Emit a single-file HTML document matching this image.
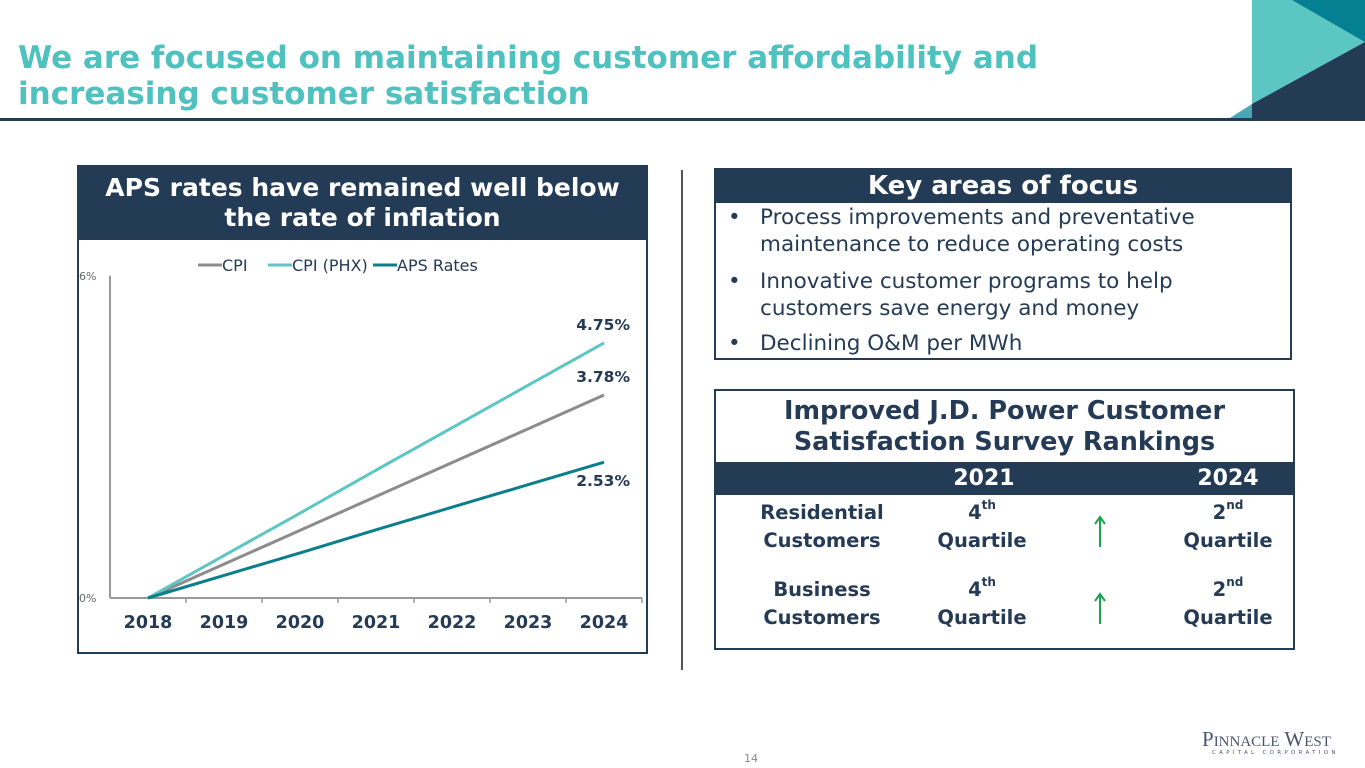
<!DOCTYPE html>
<html><head><meta charset="utf-8"><style>
body{margin:0;width:1365px;height:768px;position:relative;background:#fff;font-family:"DejaVu Sans","Liberation Sans",sans-serif;overflow:hidden;color:#243a55}
.a{position:absolute;white-space:nowrap}
.title{left:18px;top:40px;font-size:31px;font-weight:bold;color:#4fc1be;line-height:36px}
.bul{font-size:21.5px;line-height:27px;color:#243a55}
.c{text-align:center}
.b{font-weight:bold}
sup{font-size:12px;vertical-align:top;line-height:0;position:relative;top:6px}
</style></head><body>
<div class="a title">We are focused on maintaining customer affordability and<br>increasing customer satisfaction</div>
<svg class="a" style="left:0;top:0" width="1365" height="125">
<rect x="1252" y="0" width="113" height="118" fill="#5cc6c3"/>
<polygon points="1292,0 1365,0 1365,42" fill="#057f92"/>
<polygon points="1365,42 1252,104 1252,118 1365,118" fill="#243b55"/>
<polygon points="1230,118 1252,104 1252,118" fill="#4aa8b6"/>
<rect x="0" y="118" width="1365" height="3" fill="#243b55"/>
</svg>
<div class="a" style="left:77px;top:165px;width:567px;height:485px;border:2px solid #243b55"></div>
<div class="a c b" style="left:77px;top:165px;width:571px;height:75px;background:#243b55;color:#fff;font-size:25px;line-height:30px;padding-top:8px;box-sizing:border-box">APS rates have remained well below<br>the rate of inflation</div>
<svg class="a" id="chart" style="left:0;top:0" width="680" height="680"></svg>
<div class="a" style="left:681px;top:170px;width:2px;height:500px;background:#555"></div>
<div class="a" style="left:714px;top:168px;width:574px;height:188px;border:2px solid #243b55"></div>
<div class="a c b" style="left:714px;top:168px;width:578px;height:35px;background:#243b55;color:#fff;font-size:26px;line-height:37px">Key areas of focus</div>
<div class="a bul" style="left:728px;top:204px">•</div>
<div class="a bul" style="left:760px;top:204px">Process improvements and preventative<br>maintenance to reduce operating costs</div>
<div class="a bul" style="left:728px;top:268px">•</div>
<div class="a bul" style="left:760px;top:268px">Innovative customer programs to help<br>customers save energy and money</div>
<div class="a bul" style="left:728px;top:330px">•</div>
<div class="a bul" style="left:760px;top:330px">Declining O&amp;M per MWh</div>
<div class="a" style="left:714px;top:389px;width:577px;height:257px;border:2px solid #243b55"></div>
<div class="a c b" style="left:714px;top:396px;width:581px;font-size:25.5px;line-height:31px">Improved J.D. Power Customer<br>Satisfaction Survey Rankings</div>
<div class="a" style="left:714px;top:462px;width:581px;height:33px;background:#243b55"></div>
<div class="a b c" style="left:934px;top:464px;width:100px;font-size:22px;line-height:30px;color:#fff">2021</div>
<div class="a b c" style="left:1178px;top:464px;width:100px;font-size:22px;line-height:30px;color:#fff">2024</div>
<div class="a b c" style="left:752px;top:499px;width:140px;font-size:19.5px;line-height:28px">Residential<br>Customers</div>
<div class="a b c" style="left:922px;top:499px;width:120px;font-size:19.5px;line-height:28px">4<sup>th</sup><br>Quartile</div>
<div class="a b c" style="left:1168px;top:499px;width:120px;font-size:19.5px;line-height:28px">2<sup>nd</sup><br>Quartile</div>
<div class="a b c" style="left:752px;top:576px;width:140px;font-size:19.5px;line-height:28px">Business<br>Customers</div>
<div class="a b c" style="left:922px;top:576px;width:120px;font-size:19.5px;line-height:28px">4<sup>th</sup><br>Quartile</div>
<div class="a b c" style="left:1168px;top:576px;width:120px;font-size:19.5px;line-height:28px">2<sup>nd</sup><br>Quartile</div>
<svg class="a" style="left:1090px;top:515px" width="20" height="110">
<path d="M10,32 V3 M5,9 L10,2 L15,9" stroke="#1aa34a" stroke-width="2" fill="none"/>
<path d="M10,109 V80 M5,86 L10,79 L15,86" stroke="#1aa34a" stroke-width="2" fill="none"/>
</svg>
<div class="a" style="left:744px;top:752px;font-size:11px;color:#888">14</div>
<div class="a" style="left:1202px;top:727px;font-family:'Liberation Serif',serif;font-size:21px;color:#4a5670">P<span style="font-size:15px">INNACLE</span> W<span style="font-size:15px">EST</span></div>
<div class="a" style="left:1212px;top:750px;font-size:5.5px;letter-spacing:3.3px;color:#4a5670">CAPITAL CORPORATION</div>
<script>
const years=['2018','2019','2020','2021','2022','2023','2024'];
const cpi=[0,0.63,1.26,1.89,2.52,3.15,3.78];
const cpiPhx=[0,0.79,1.58,2.38,3.17,3.96,4.75];
const aps=[0,0.42,0.84,1.27,1.69,2.11,2.53];
const endLabels=['3.78%','4.75%','2.53%'];
const yTicks=[0,6];
const svg=document.getElementById('chart');
const NS='http://www.w3.org/2000/svg';
const x=i=>148+i*76;
const y=v=>598-v*53.7;
function mk(t,a){const e=document.createElementNS(NS,t);for(const k in a)e.setAttribute(k,a[k]);svg.appendChild(e);return e;}
let e=mk('line',{x1:110,y1:y(6),x2:110,y2:y(0),stroke:'#999','stroke-width':2});


e=mk('line',{x1:110,y1:y(0),x2:642,y2:y(0),stroke:'#999','stroke-width':2});


yTicks.forEach(t=>{const tx=mk('text',{x:79,y:y(t)+4,'font-size':11,fill:'#666'});tx.textContent=t+'%';

});
years.forEach((yr,i)=>{
 const tk=mk('line',{x1:x(i)+38,y1:y(0),x2:x(i)+38,y2:y(0)+5,stroke:'#999','stroke-width':1.5});
 
 
 const t=mk('text',{x:x(i),y:628,'text-anchor':'middle','font-size':17.5,'font-weight':'bold',fill:'#243a55'});t.textContent=yr;
 
 
});
const series=[[cpi,'#8c8c8c','cpi-line'],[cpiPhx,'#5cc6c3','cpi-phx-line'],[aps,'#0b7e8c','aps-rates-line']];
series.forEach(([d,c,n])=>{
 const p=mk('polyline',{points:d.map((v,i)=>x(i)+','+y(v)).join(' '),fill:'none',stroke:c,'stroke-width':3});
 
 
});
const lblY=[y(cpi[6])-13,y(cpiPhx[6])-13,y(aps[6])+24];
endLabels.forEach((l,i)=>{const t=mk('text',{x:630,y:lblY[i],'text-anchor':'end','font-size':15.5,'font-weight':'bold',fill:'#243a55'});t.textContent=l;

});
const leg=[['CPI','#8c8c8c',198],['CPI (PHX)','#5cc6c3',268],['APS Rates','#0b7e8c',373]];
leg.forEach(([l,c,lx])=>{
 const g=mk('line',{x1:lx,y1:265,x2:lx+24,y2:265,stroke:c,'stroke-width':3});
 
 
 const t=mk('text',{x:lx+24,y:271,'font-size':16,fill:'#243a55'});t.textContent=l;
 
 
});
</script>
</body></html>
